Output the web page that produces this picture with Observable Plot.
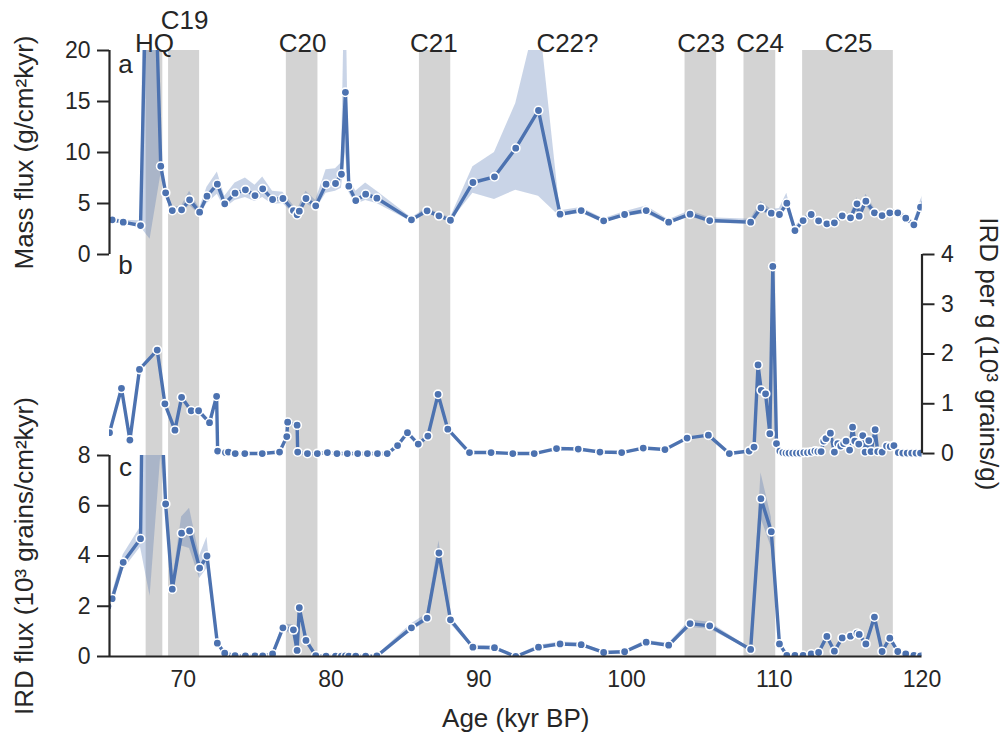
<!DOCTYPE html>
<html><head><meta charset="utf-8">
<script src="https://cdn.jsdelivr.net/npm/d3@7"></script>
<script src="https://cdn.jsdelivr.net/npm/@observablehq/plot@0.6"></script>
<style>
html,body{margin:0;padding:0;background:#fff;}
#chart{position:relative;width:1006px;height:740px;overflow:hidden;background:#fff;}
#chart svg{position:absolute;left:0;top:0;}
#chart [aria-label^="y-axis"] line, #chart [aria-label^="y-axis"] path,
#chart [aria-label^="x-axis"] line, #chart [aria-label^="x-axis"] path {stroke-width:2px;}
</style></head><body><div id="chart"></div>
<script>
// ---- event bands ----
const eventNames = ["HQ","C19","C20","C21","C22?","C23","C24","C25"];
const eventStart = [67.48, 69.0, 76.97, 85.98, null, 103.96, 107.95, 111.92];
const eventEnd   = [68.61, 71.1, 79.11, 88.1, null, 106.1, 110.1, 118.06];
const eventLabelAge = [68.05, 70.08, 78.07, 86.95, 96.0, 105.04, 109.04, 115.03];
const raisedLabels = ["C19"];

// ---- panels a & c share sample ages ----
const ages = [64.9, 65.18, 65.93, 67.1, 67.75, 68.47, 68.8, 69.25, 69.88, 70.42,
  71.1, 71.6, 72.3, 72.8, 73.5, 74.2, 74.85, 75.37, 76.04, 76.74,
  77.45, 77.7, 77.85, 78.3, 78.96, 79.66, 80.3, 80.7, 80.97, 81.2,
  81.67, 82.34, 83.1, 85.44, 86.5, 87.3, 88.08, 89.6, 91.06, 92.5,
  94.04, 95.5, 96.93, 98.45, 99.87, 101.33, 102.85, 104.3, 105.63, 108.4,
  109.1, 109.8, 110.35, 110.85, 111.4, 111.95, 112.5, 113.0, 113.56, 114.07,
  114.6, 115.16, 115.6, 115.75, 116.2, 116.78, 117.3, 117.82, 118.36, 118.9,
  119.45, 119.9, 120.3];

// a: mass flux (g/cm2 kyr)
const massFlux = [3.5, 3.40, 3.17, 2.84, 45, 8.66, 6.05, 4.31, 4.38, 5.36,
  4.15, 5.72, 6.89, 4.97, 6.01, 6.34, 5.78, 6.44, 5.39, 5.49,
  4.31, 3.89, 4.25, 5.49, 4.77, 6.89, 6.96, 7.87, 15.9, 6.7,
  5.29, 5.91, 5.52, 3.4, 4.28, 3.79, 3.36, 7.06, 7.62, 10.42,
  14.12, 3.95, 4.31, 3.3, 3.92, 4.31, 3.17, 3.95, 3.33, 3.17,
  4.58, 4.05, 3.92, 5.03, 2.35, 3.33, 3.92, 3.3, 3.01, 3.11,
  3.79, 3.6, 4.97, 3.76, 5.23, 4.09, 3.82, 4.09, 4.09, 3.56,
  2.91, 4.64, 5.8];
const massLo = [3.3, 3.2, 3.0, 2.7, 1.5, 7.8, 5.7, 4.0, 4.1, 4.8,
  3.9, 5.0, 5.9, 4.5, 5.3, 5.6, 5.2, 5.6, 4.9, 5.0,
  4.0, 3.6, 3.9, 5.0, 4.4, 6.0, 6.2, 6.5, 10, 6.1,
  4.9, 5.3, 5.0, 3.2, 4.0, 3.6, 3.2, 6.0, 5.4, 6.3,
  5.7, 3.7, 4.05, 3.1, 3.7, 4.0, 2.95, 3.7, 3.1, 2.95,
  4.25, 3.75, 3.6, 4.5, 2.1, 3.05, 3.65, 3.05, 2.8, 2.9,
  3.5, 3.35, 4.5, 3.45, 4.75, 3.75, 3.55, 3.8, 3.8, 3.3,
  2.65, 4.2, 5.2];
const massHi = [3.7, 3.6, 3.35, 3.3, 80, 9.5, 6.4, 4.6, 4.75, 6.2,
  4.5, 6.6, 8.1, 5.7, 7.0, 7.5, 6.8, 7.6, 6.2, 6.1,
  4.8, 4.3, 4.8, 6.2, 5.3, 8.3, 8.4, 9.0, 30, 7.6,
  6.2, 7.0, 6.2, 3.6, 4.55, 4.05, 3.6, 8.6, 10.0, 14.8,
  24, 4.3, 4.6, 3.5, 4.2, 4.75, 3.4, 4.3, 3.6, 3.45,
  5.2, 4.4, 4.5, 6.0, 2.7, 3.6, 4.2, 3.6, 3.3, 3.4,
  4.1, 3.9, 5.6, 4.1, 5.9, 4.5, 4.1, 4.4, 4.4, 3.9,
  3.2, 5.3, 6.6];

// c: IRD flux (10^3 grains/cm2 kyr)
const irdFlux = [2.0, 2.30, 3.75, 4.69, 36, 10.3, 6.07, 2.68, 4.91, 5.0,
  3.52, 4.0, 0.53, 0.13, 0.03, 0.02, 0.02, 0.02, 0.1, 1.14,
  1.06, 0.24, 1.94, 0.64, 0.03, 0.01, 0.01, 0.01, 0.02, 0.01,
  0.01, 0.01, 0.02, 1.14, 1.53, 4.12, 1.46, 0.37, 0.35, 0.0,
  0.37, 0.5, 0.47, 0.16, 0.19, 0.57, 0.45, 1.31, 1.22, 0.28,
  6.28, 4.97, 0.5, 0.04, 0.04, 0.04, 0.1, 0.16, 0.8, 0.21,
  0.74, 0.81, 0.93, 0.88, 0.5, 1.57, 0.2, 0.73, 0.2, 0.1,
  0.04, 0.02, 0.02];
const irdLo = [1.8, 2.1, 3.45, 4.35, 2.4, 8.0, 5.9, 2.45, 4.4, 4.3,
  3.1, 3.5, 0.45, 0.1, 0.01, 0.0, 0.0, 0.0, 0.08, 1.0,
  0.9, 0.2, 1.7, 0.55, 0.01, 0, 0, 0, 0, 0,
  0, 0, 0, 1.0, 1.4, 3.8, 1.3, 0.3, 0.28, 0,
  0.3, 0.42, 0.4, 0.12, 0.15, 0.5, 0.38, 1.15, 1.08, 0.24,
  5.5, 4.35, 0.42, 0.02, 0.02, 0.02, 0.07, 0.12, 0.7, 0.17,
  0.65, 0.72, 0.85, 0.8, 0.44, 1.4, 0.16, 0.65, 0.16, 0.07,
  0.02, 0.0, 0.0];
const irdHi = [2.2, 2.5, 4.05, 5.15, 45, 14, 6.3, 2.9, 5.55, 5.9,
  4.0, 4.75, 0.62, 0.16, 0.05, 0.04, 0.04, 0.04, 0.13, 1.3,
  1.25, 0.3, 2.2, 0.75, 0.05, 0.03, 0.03, 0.03, 0.04, 0.03,
  0.03, 0.03, 0.04, 1.3, 1.7, 4.6, 1.6, 0.45, 0.42, 0.02,
  0.45, 0.58, 0.55, 0.2, 0.23, 0.65, 0.52, 1.45, 1.36, 0.32,
  7.3, 5.55, 0.58, 0.06, 0.06, 0.06, 0.13, 0.2, 0.9, 0.25,
  0.83, 0.9, 1.0, 0.95, 0.56, 1.75, 0.24, 0.82, 0.24, 0.13,
  0.06, 0.04, 0.04];

// b: IRD per g (10^3 grains/g)
const bAges = [65.0, 65.81, 66.38, 67.03, 68.23, 68.75, 69.43, 69.88, 70.53, 71.03,
  71.77, 72.25, 72.32, 72.85, 73.05, 73.51, 74.16, 75.34, 76.51, 77.0,
  77.06, 77.7, 77.74, 78.4, 79.07, 79.75, 80.4, 81.1, 81.8, 82.46,
  83.14, 83.8, 84.5, 85.17, 85.9, 86.55, 87.24, 87.9, 89.37, 90.83,
  92.3, 93.75, 95.26, 96.73, 98.2, 99.67, 101.13, 102.6, 104.1, 105.54,
  106.96, 108.3, 108.63, 108.9, 109.12, 109.41, 109.7, 109.9, 110.15, 110.38,
  110.58, 110.8, 111.0, 111.25, 111.5, 111.75, 112.0, 112.25, 112.5, 112.75,
  112.95, 113.17, 113.35, 113.5, 113.8, 114.07, 114.3, 114.5, 114.7, 114.86,
  115.1, 115.3, 115.45, 115.72, 115.99, 116.15, 116.4, 116.55, 116.83, 117.0,
  117.3, 117.6, 117.85, 118.1, 118.4, 118.7, 119.0, 119.3, 119.6, 119.9];
const irdPerG = [0.42, 1.31, 0.27, 1.69, 2.08, 1.0, 0.47, 1.13, 0.86, 0.86,
  0.62, 1.15, 0.05, 0.02, 0.03, 0.0, 0.0, 0.0, 0.03, 0.34,
  0.63, 0.57, 0.03, 0.0, 0.0, 0.02, 0.0, 0.0, 0.0, 0.0,
  0.0, 0.0, 0.16, 0.42, 0.19, 0.35, 1.19, 0.49, 0.02, 0.02,
  0.0, 0.0, 0.1, 0.09, 0.03, 0.02, 0.11, 0.08, 0.31, 0.37,
  0.0, 0.05, 0.13, 1.78, 1.27, 1.2, 0.4, 3.76, 0.2, 0.05,
  0.02, 0.01, 0.01, 0.01, 0.01, 0.01, 0.02, 0.02, 0.03, 0.05,
  0.04, 0.04, 0.25, 0.3, 0.41, 0.03, 0.2, 0.15, 0.2, 0.25,
  0.07, 0.53, 0.25, 0.19, 0.36, 0.03, 0.26, 0.04, 0.48, 0.04,
  0.03, 0.15, 0.14, 0.16, 0.02, 0.01, 0.01, 0.01, 0.01, 0.01];

// ticks
const ageTicks = [70, 80, 90, 100, 110, 120];
const massTicks = [0, 5, 10, 15, 20];
const perGTicks = [0, 1, 2, 3, 4];
const fluxTicks = [0, 2, 4, 6, 8];

// ---- styling ----
const BLUE = "#4c72b0", DARK = "#262626", GRAY = "#d3d3d3";
const FONT = "'Liberation Sans', Arial, Helvetica, sans-serif";
const W = 1006, H = 740;
const xDomain = [65, 120];
const common = {
  width: W, height: H, marginLeft: 109, marginRight: 84.5,
  style: {background: "transparent", overflow: "visible", fontFamily: FONT, fontSize: "23px", color: DARK}
};
const fmt = d => String(d);

const events = eventNames.map((name, i) => ({name, start: eventStart[i], end: eventEnd[i], mid: eventLabelAge[i]}));
const aData = ages.map((age, i) => ({age, v: massFlux[i], lo: massLo[i], hi: massHi[i]}));
const cData = ages.map((age, i) => ({age, v: irdFlux[i], lo: irdLo[i], hi: irdHi[i]}));
const bData = bAges.map((age, i) => ({age, v: irdPerG[i]}));

function series(data, withBand) {
  const m = [];
  if (withBand) m.push(Plot.areaY(data, {x: "age", y1: "lo", y2: "hi", fill: BLUE, fillOpacity: 0.3, clip: true}));
  m.push(Plot.line(data, {x: "age", y: "v", stroke: BLUE, strokeWidth: 3.4, clip: true}));
  m.push(Plot.dot(data, {x: "age", y: "v", r: 4.2, fill: BLUE, stroke: "white", strokeWidth: 1.6, clip: true}));
  return m;
}

const bandsPlot = Plot.plot({
  ...common, marginTop: 50, marginBottom: 84,
  x: {domain: xDomain, axis: null},
  y: {domain: [0, 1], axis: null},
  marks: [
    Plot.rect(events.filter(d => d.start != null), {x1: "start", x2: "end", y1: 0, y2: 1, fill: GRAY}),
    Plot.text(events.filter(d => !raisedLabels.includes(d.name)), {x: "mid", frameAnchor: "top", text: "name", lineAnchor: "bottom", textAnchor: "middle", dy: 1, fontSize: 26, fill: DARK}),
    Plot.text(events.filter(d => raisedLabels.includes(d.name)), {x: "mid", frameAnchor: "top", text: "name", lineAnchor: "bottom", textAnchor: "middle", dy: -22, fontSize: 26, fill: DARK})
  ]
});

const aPlot = Plot.plot({
  ...common, marginTop: 50, marginBottom: 486,
  x: {domain: xDomain, axis: null},
  y: {domain: [0, 20], ticks: massTicks, tickSize: 12, tickPadding: 7, tickFormat: fmt, label: null},
  marks: [
    ...series(aData, true),
    Plot.ruleX([65], {y1: 0, y2: 20, stroke: DARK, strokeWidth: 2.2}),
    Plot.text(["Mass flux (g/cm²kyr)"], {text: d => d, frameAnchor: "left", textAnchor: "middle", lineAnchor: "middle", dx: -85, rotate: -90, fontSize: 26, fill: DARK}),
    Plot.text(["a"], {text: d => d, frameAnchor: "top-left", dx: 16, dy: 22, lineAnchor: "bottom", textAnchor: "middle", fontSize: 26, fill: DARK})
  ]
});

const bPlot = Plot.plot({
  ...common, marginTop: 254, marginBottom: 279.5,
  x: {domain: xDomain, axis: null},
  y: {domain: [-0.15, 4], axis: "right", ticks: perGTicks, tickSize: 12, tickPadding: 7, tickFormat: fmt, label: null},
  marks: [
    ...series(bData, false),
    Plot.ruleX([120], {y1: 0, y2: 4, stroke: DARK, strokeWidth: 2.2}),
    Plot.text(["IRD per g (10³ grains/g)"], {text: d => d, frameAnchor: "right", textAnchor: "middle", lineAnchor: "middle", dx: 66, dy: -4, rotate: 90, fontSize: 26, fill: DARK}),
    Plot.text(["b"], {text: d => d, frameAnchor: "top-left", dx: 16, dy: 19, lineAnchor: "bottom", textAnchor: "middle", fontSize: 26, fill: DARK})
  ]
});

const cPlot = Plot.plot({
  ...common, marginTop: 455, marginBottom: 84,
  x: {domain: xDomain, ticks: ageTicks, tickSize: 0, tickPadding: 14, tickFormat: fmt, label: null},
  y: {domain: [0, 8], ticks: fluxTicks, tickSize: 12, tickPadding: 7, tickFormat: fmt, label: null},
  marks: [
    ...series(cData, true),
    Plot.ruleX([65], {y1: 0, y2: 8, stroke: DARK, strokeWidth: 2.2}),
    Plot.ruleY([0], {x1: 65, x2: 120, stroke: DARK, strokeWidth: 2.2}),
    Plot.text(["IRD flux (10³ grains/cm²kyr)"], {text: d => d, frameAnchor: "left", textAnchor: "middle", lineAnchor: "middle", dx: -85, rotate: -90, fontSize: 26, fill: DARK}),
    Plot.text(["Age (kyr BP)"], {text: d => d, frameAnchor: "bottom", textAnchor: "middle", lineAnchor: "middle", dy: 62, fontSize: 26, fill: DARK}),
    Plot.text(["c"], {text: d => d, frameAnchor: "top-left", dx: 16, dy: 20, lineAnchor: "bottom", textAnchor: "middle", fontSize: 26, fill: DARK})
  ]
});

const chart = document.getElementById("chart");
[bandsPlot, aPlot, bPlot, cPlot].forEach(p => chart.appendChild(p));
</script></body></html>
